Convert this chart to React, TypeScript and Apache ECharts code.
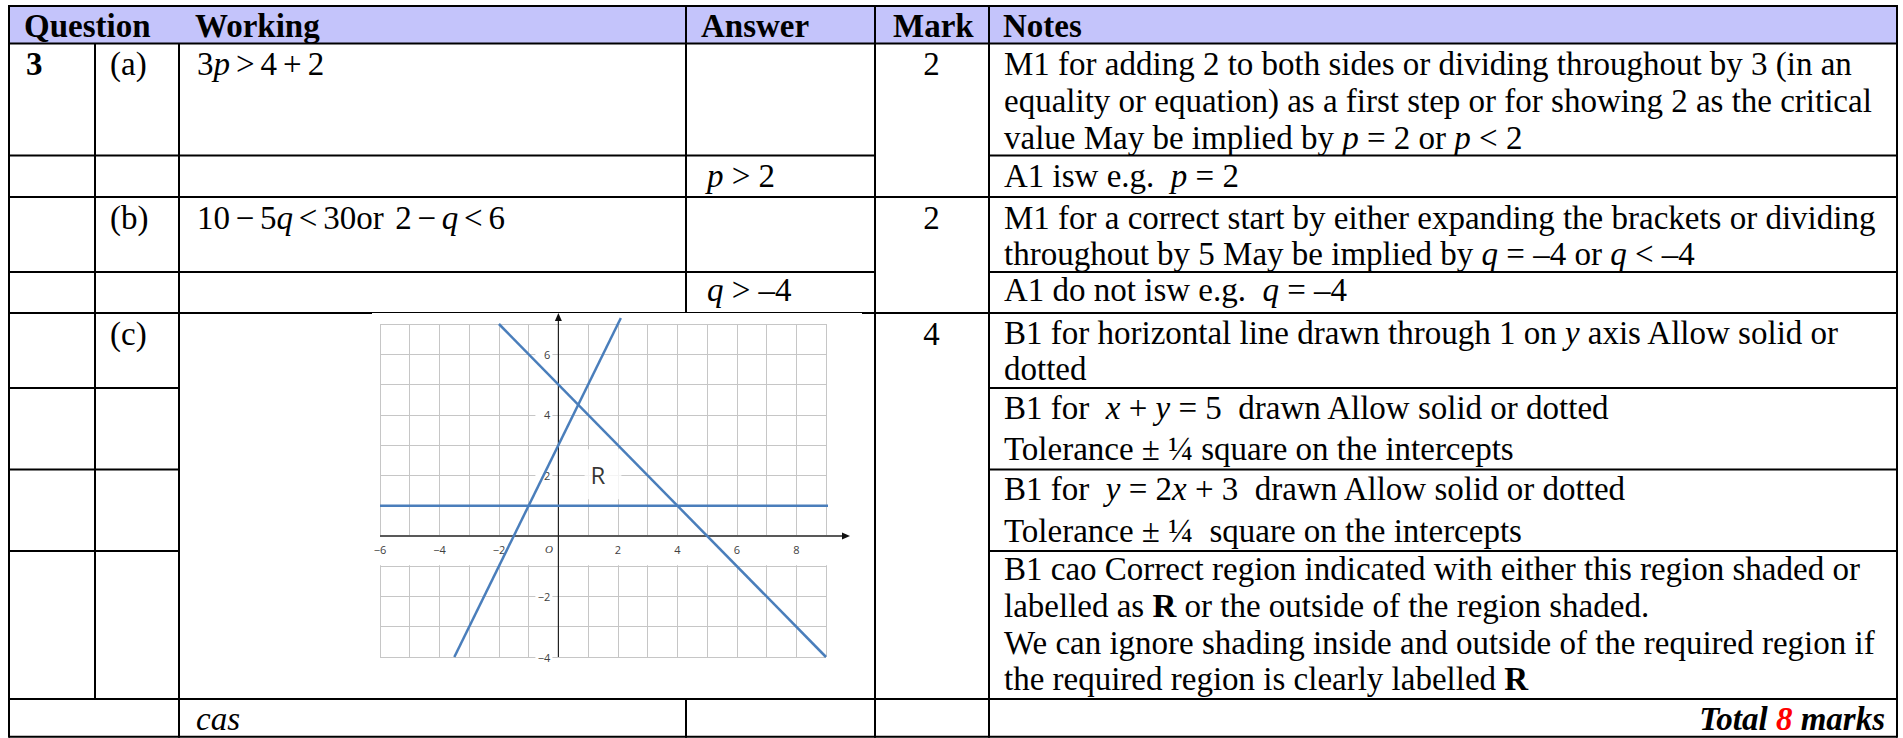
import React, { useEffect, useRef } from 'react';
import * as echarts from 'echarts';

// ---------- graph data ----------
const X_RANGE = [-6, 9];
const Y_RANGE = [-4, 7];
const X_TICK_LABELS = [-6, -4, -2, 2, 4, 6, 8];
const Y_TICK_LABELS = [6, 4, 2, -2, -4];
const ORIGIN_LABEL = 'O';
const LINE_Y_EQ_1 = [[-6, 1], [9.15, 1]];
const LINE_X_PLUS_Y_EQ_5 = [[-2, 7], [9, -4]];
const LINE_Y_EQ_2X_PLUS_3 = [[-3.5, -4], [2.1, 7.2]];
const REGION_LABEL = [{ name: 'R', value: [1.5, 2.04] }];
const LABEL_BAND = [-0.97, -0.03];

// ---------- table text ----------
const HEADERS = ['Question', 'Working', 'Answer', 'Mark', 'Notes'];
const QUESTION = '3';
const PARTS = ['(a)', '(b)', '(c)'];
const MARKS = ['2', '2', '4'];
const WORKING = [
  '3{i|p}{s| }>{s| }4{s| }+{s| }2',
  '10{t| }−{t| }5{i|q}{t| }<{t| }30or{t| }{t| }2{t| }−{t| }{i|q}{t| }<{t| }6',
];
const ANSWERS = ['{i|p} > 2', '{i|q} > –4'];
const NOTES_A1 = [
  'M1 for adding 2 to both sides or dividing throughout by 3 (in an',
  'equality or equation) as a first step or for showing 2 as the critical',
  'value May be implied by {i|p} = 2 or {i|p} < 2',
];
const NOTES_A2 = ['A1 isw e.g.  {i|p} = 2'];
const NOTES_B1 = [
  'M1 for a correct start by either expanding the brackets or dividing',
  'throughout by 5 May be implied by {i|q} = –4 or {i|q} < –4',
];
const NOTES_B2 = ['A1 do not isw e.g.  {i|q} = –4'];
const NOTES_C1 = ['B1 for horizontal line drawn through 1 on {i|y} axis Allow solid or', 'dotted'];
const NOTES_C2 = ['B1 for  {i|x} + {i|y} = 5  drawn Allow solid or dotted', 'Tolerance ± ¼ square on the intercepts'];
const NOTES_C3 = ['B1 for  {i|y} = 2{i|x} + 3  drawn Allow solid or dotted', 'Tolerance ± ¼  square on the intercepts'];
const NOTES_C4 = [
  'B1 cao Correct region indicated with either this region shaded or',
  'labelled as {b|R} or the outside of the region shaded.',
  'We can ignore shading inside and outside of the required region if',
  'the required region is clearly labelled {b|R}',
];
const CAS = '{i|cas}';
const TOTAL = '{bi|Total }{r|8}{bi| marks}';

// ---------- styling helpers ----------
const SERIF = '"Liberation Serif", "Times New Roman", serif';
const SANS = '"Open Sans", "Liberation Sans", sans-serif';
const FS = 33;
const fnt = (size: number, weight = 'normal', style = 'normal', fill = '#000') => ({
  fontSize: size,
  fontFamily: SERIF,
  fontWeight: weight,
  fontStyle: style,
  fill,
});
const makeRich = () => ({
  n: fnt(FS),
  i: fnt(FS, 'normal', 'italic'),
  b: fnt(FS, 'bold'),
  bi: fnt(FS, 'bold', 'italic'),
  r: fnt(FS, 'bold', 'italic', '#ff0000'),
  s: fnt(24),
  t: fnt(23),
});

const txt = (x: number, y: number, text: string, align = 'left', weight = 'normal', fontStyle = 'normal') => ({
  type: 'text',
  x,
  y,
  z: 1,
  silent: true,
  style: {
    text,
    x: 0,
    y: 0,
    ...fnt(FS, weight, fontStyle),
    align,
    verticalAlign: 'middle',
    textAlign: align,
    textVerticalAlign: 'middle',
    rich: makeRich(),
  },
});

const hLine = (y: number, x1: number, x2: number, w = 2) => ({
  type: 'line',
  z: 1,
  silent: true,
  shape: { x1, y1: y, x2, y2: y },
  style: { stroke: '#000', lineWidth: w },
});
const vLine = (x: number, y1: number, y2: number, w = 2) => ({
  type: 'line',
  z: 1,
  silent: true,
  shape: { x1: x, y1, x2: x, y2 },
  style: { stroke: '#000', lineWidth: w },
});

const fmtNum = (v: number) => (v < 0 ? '−' + Math.abs(v) : String(v));

function buildGraphic() {
  const els: any[] = [];
  els.push({
    type: 'rect',
    z: 0,
    silent: true,
    shape: { x: 9, y: 6, width: 1888, height: 37.5 },
    style: { fill: '#c4c4fb' },
  });
  const L = 9, R = 1897, TOP = 5, BOT = 737.7;
  els.push(hLine(6, L, R));
  els.push(hLine(43.5, L, R));
  els.push(hLine(155.5, L, 875), hLine(155.5, 989, R));
  els.push(hLine(197, L, R));
  els.push(hLine(272, L, 875), hLine(272, 989, R));
  els.push(hLine(313, L, 372), hLine(312.5, 372, 862, 1), hLine(313, 862, R));
  els.push(hLine(388, L, 179), hLine(388, 989, R));
  els.push(hLine(469.5, L, 179), hLine(469.5, 989, R));
  els.push(hLine(551, L, 179), hLine(551, 989, R));
  els.push(hLine(699, L, R));
  els.push(hLine(736.7, L, R));
  els.push(vLine(L, TOP, BOT));
  els.push(vLine(95, 43.5, 699));
  els.push(vLine(179, 43.5, BOT));
  els.push(vLine(686, TOP, 313), vLine(686, 699, BOT));
  els.push(vLine(875, TOP, BOT));
  els.push(vLine(989, TOP, BOT));
  els.push(vLine(R, TOP, BOT));

  const hx = [24, 195, 701, 893, 1003];
  HEADERS.forEach((h, k) => els.push(txt(hx[k], 26, h, 'left', 'bold')));

  els.push(txt(26, 64, QUESTION, 'left', 'bold'));
  const partY = [64, 217.7, 333.5];
  PARTS.forEach((p, k) => els.push(txt(110, partY[k], p)));
  MARKS.forEach((m, k) => els.push(txt(931.5, partY[k], m, 'center')));

  els.push(txt(197, 64, WORKING[0]));
  els.push(txt(197, 217.7, WORKING[1]));
  els.push(txt(707, 176, ANSWERS[0]));
  els.push(txt(707, 290, ANSWERS[1]));

  const NX = 1004;
  const addLines = (lines: string[], ys: number[]) => lines.forEach((l, k) => els.push(txt(NX, ys[k], l)));
  addLines(NOTES_A1, [64, 101, 137.5]);
  addLines(NOTES_A2, [176]);
  addLines(NOTES_B1, [217.7, 254.4]);
  addLines(NOTES_B2, [290]);
  addLines(NOTES_C1, [333, 369.2]);
  addLines(NOTES_C2, [407.5, 449.2]);
  addLines(NOTES_C3, [489.2, 530.9]);
  addLines(NOTES_C4, [569.2, 605.9, 642.5, 679.2]);

  els.push(txt(196, 719, CAS));
  els.push(txt(1885, 719, TOTAL, 'right', 'bold', 'italic'));
  return els;
}

const LABEL_COLOR = '#404040';
const BLUE = '#4a7ebb';
const GRID_COLOR = '#c6c6c6';

const tickText = (x: number, y: number, text: string, align: string, font: string) => ({
  type: 'text',
  x,
  y,
  style: {
    text,
    x: 0,
    y: 0,
    font,
    fill: LABEL_COLOR,
    align,
    verticalAlign: 'middle',
    textAlign: align,
    textVerticalAlign: 'middle',
  },
});

export default function App() {
  const ref = useRef<HTMLDivElement>(null);
  useEffect(() => {
    if (!ref.current) return;
    const chart = echarts.init(ref.current, undefined, { renderer: 'svg' });
    const lineSeries = (name: string, data: number[][]) => ({
      name,
      type: 'line',
      data,
      symbol: 'none',
      clip: false,
      z: 10,
      silent: true,
      lineStyle: { color: BLUE, width: 2.5 },
    });
    const option: any = {
      animation: false,
      backgroundColor: '#ffffff',
      graphic: { elements: buildGraphic() },
      grid: { left: 380, top: 324, width: 446, height: 333, containLabel: false },
      xAxis: {
        type: 'value',
        min: X_RANGE[0],
        max: X_RANGE[1],
        interval: 1,
        axisLine: { show: false },
        axisTick: { show: false },
        axisLabel: { show: false },
        splitLine: { show: true, lineStyle: { color: GRID_COLOR, width: 1 } },
      },
      yAxis: {
        type: 'value',
        min: Y_RANGE[0],
        max: Y_RANGE[1],
        interval: 1,
        axisLine: { show: false },
        axisTick: { show: false },
        axisLabel: { show: false },
        splitLine: { show: true, lineStyle: { color: GRID_COLOR, width: 1 } },
      },
      series: [
        {
          name: 'band',
          type: 'custom',
          z: 0,
          silent: true,
          clip: false,
          data: [[0, 0]],
          renderItem: (_p: any, api: any) => {
            const a = api.coord([X_RANGE[0], LABEL_BAND[1]]);
            const b = api.coord([X_RANGE[1], LABEL_BAND[0]]);
            return {
              type: 'rect',
              shape: { x: a[0] - 1, y: a[1], width: b[0] - a[0] + 2, height: b[1] - a[1] },
              style: { fill: '#ffffff' },
            };
          },
        },
        {
          name: 'axes',
          type: 'custom',
          z: 8,
          silent: true,
          clip: false,
          data: [[0, 0]],
          renderItem: (_p: any, api: any) => {
            const xs = api.coord([X_RANGE[0], 0]);
            const xe = api.coord([X_RANGE[1], 0]);
            const ys = api.coord([0, Y_RANGE[0]]);
            const ye = api.coord([0, Y_RANGE[1]]);
            const xt = [xe[0] + 24, xe[1]];
            const yt = [ye[0], ye[1] - 11];
            const sansFont = '11px ' + SANS;
            const children: any[] = [
              { type: 'line', shape: { x1: xs[0], y1: xs[1], x2: xt[0] - 6, y2: xt[1] }, style: { stroke: '#595959', lineWidth: 2 } },
              { type: 'polygon', shape: { points: [[xt[0], xt[1]], [xt[0] - 8, xt[1] - 3.5], [xt[0] - 8, xt[1] + 3.5]] }, style: { fill: '#111' } },
              { type: 'line', shape: { x1: ys[0], y1: ys[1], x2: yt[0], y2: yt[1] + 6 }, style: { stroke: '#222', lineWidth: 1.2 } },
              { type: 'polygon', shape: { points: [[yt[0], yt[1]], [yt[0] - 3.5, yt[1] + 8], [yt[0] + 3.5, yt[1] + 8]] }, style: { fill: '#111' } },
            ];
            X_TICK_LABELS.forEach((v) => {
              const p = api.coord([v, 0]);
              children.push(tickText(p[0], p[1] + 13.5, fmtNum(v), 'center', sansFont));
            });
            const o = api.coord([0, 0]);
            children.push(tickText(o[0] - 9.5, o[1] + 13.5, ORIGIN_LABEL, 'center', 'italic 11px ' + SERIF));
            Y_TICK_LABELS.forEach((v) => {
              const p = api.coord([0, v]);
              children.push({ type: 'rect', shape: { x: p[0] - 23, y: p[1] - 6, width: 17, height: 12 }, style: { fill: '#ffffff' } });
              children.push(tickText(p[0] - 8, p[1], fmtNum(v), 'right', sansFont));
            });
            return { type: 'group', children };
          },
        },
        lineSeries('y = 1', LINE_Y_EQ_1),
        lineSeries('x + y = 5', LINE_X_PLUS_Y_EQ_5),
        lineSeries('y = 2x + 3', LINE_Y_EQ_2X_PLUS_3),
        {
          name: 'region',
          type: 'scatter',
          z: 6,
          silent: true,
          symbolSize: 1,
          itemStyle: { color: 'rgba(0,0,0,0)' },
          data: REGION_LABEL,
          label: {
            show: true,
            position: 'inside',
            formatter: '{b}',
            fontSize: 24,
            fontFamily: SANS,
            color: '#000',
            backgroundColor: '#fff',
            padding: [10, 16, 16, 6],
          },
        },
      ],
    };
    chart.setOption(option);
    return () => chart.dispose();
  }, []);
  return <div ref={ref} style={{ position: 'absolute', left: 0, top: 0, width: 1903, height: 738 }} />;
}
